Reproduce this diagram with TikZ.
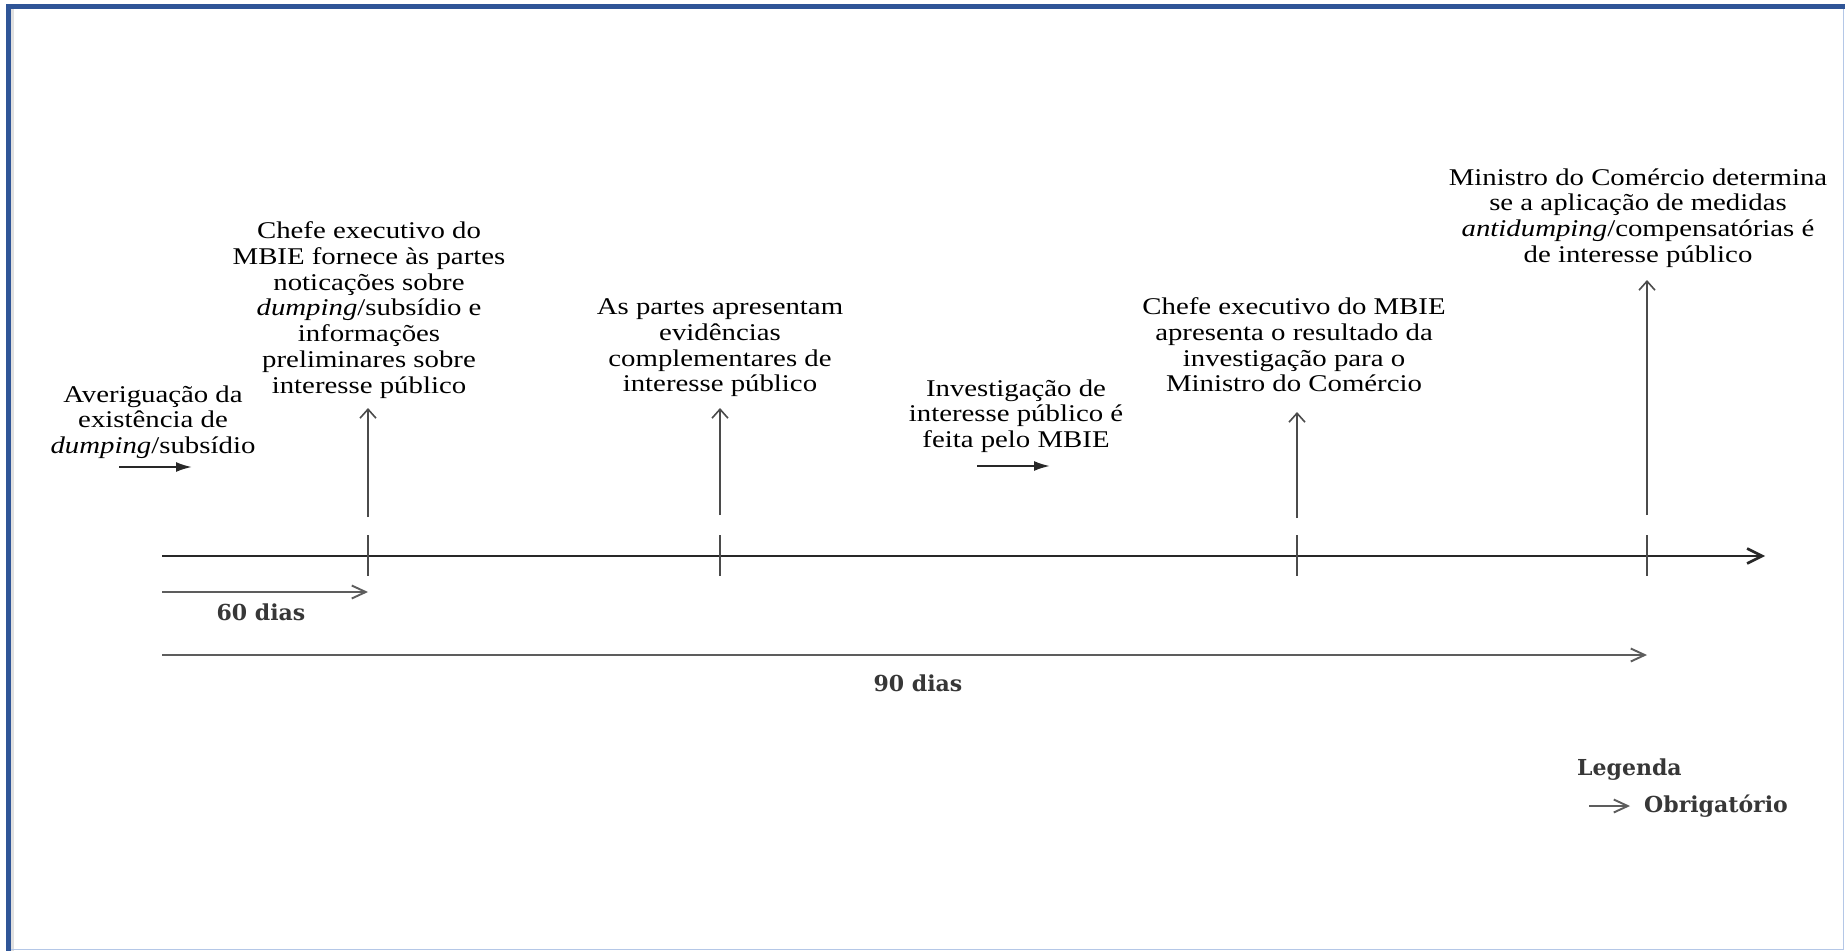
\documentclass[tikz,border=0pt]{standalone}
\usepackage{fontspec}
\setmainfont{Liberation Serif}[FakeStretch=1.2]
\newfontfamily\legfont{DejaVu Serif}
\usetikzlibrary{arrows.meta}
\definecolor{framebl}{RGB}{47,85,151}
\definecolor{framelt}{RGB}{180,199,231}
\definecolor{darkg}{RGB}{40,40,40}
\definecolor{midg}{RGB}{75,75,75}
\definecolor{leggray}{RGB}{55,55,55}
\begin{document}
\begin{tikzpicture}[x=1pt,y=-1pt,
  lbl/.style={align=center, inner sep=0pt, font=\fontsize{24}{25.7}\selectfont},
  daylbl/.style={inner sep=0pt, text=leggray, font=\legfont\bfseries\fontsize{22}{26}\selectfont},
  axisline/.style={line width=2.8pt, draw=darkg, -{Straight Barb[length=15pt,width=15pt,line width=2.6pt]}},
  tickline/.style={line width=2.2pt, draw=midg},
  uparrow/.style={line width=1.8pt, draw=midg, -{Straight Barb[length=9pt,width=16pt,line width=1.6pt]}},
  spanarrow/.style={line width=2.2pt, draw=midg!90, -{Straight Barb[length=14pt,width=13pt,line width=1.9pt]}},
  smallarrow/.style={line width=2pt, draw=darkg, -{Latex[length=16pt,width=10pt]}}
]
\useasboundingbox (0,0) rectangle (1845,951);
% frame
\fill[white] (0,0) rectangle (1845,951);
\fill[framebl] (6,4) rectangle (11,951);
\fill[framebl] (6,4) rectangle (1845,9);
\fill[black!12] (11,9) rectangle (14,951);
\draw[framelt, line width=1.5pt] (1843.5,9) -- (1843.5,949.5) -- (11,949.5);

% timeline axis
\coordinate (ax0) at (162,556);
\coordinate (ax1) at (1765,556);
\draw[axisline] (ax0) -- (ax1);

% ticks
\foreach \n/\x in {1/368,2/720,3/1297,4/1647}{
  \coordinate (tk\n a) at (\x,535);
  \coordinate (tk\n b) at (\x,576);
  \draw[tickline] (tk\n a) -- (tk\n b);
}

% event texts
\node[lbl] (t1) at (153,422) {Averiguação da\\existência de\\\textit{dumping}/subsídio};
\node[lbl] (t2) at (369,310) {Chefe executivo do\\MBIE fornece às partes\\noticações sobre\\\textit{dumping}/subsídio e\\informações\\preliminares sobre\\interesse público};
\node[lbl] (t3) at (720,348) {As partes apresentam\\evidências\\complementares de\\interesse público};
\node[lbl] (t4) at (1016,416) {Investigação de\\interesse público é\\feita pelo MBIE};
\node[lbl] (t5) at (1294,345) {Chefe executivo do MBIE\\apresenta o resultado da\\investigação para o\\Ministro do Comércio};
\node[lbl] (t6) at (1638,218) {Ministro do Comércio determina\\se a aplicação de medidas\\\textit{antidumping}/compensatórias é\\de interesse público};

% small filled arrows
\coordinate (s1a) at (119,467);
\coordinate (s1b) at (192,467);
\draw[smallarrow] (s1a) -- (s1b);
\coordinate (s2a) at (977,466);
\coordinate (s2b) at (1050,466);
\draw[smallarrow] (s2a) -- (s2b);

% vertical arrows
\coordinate (v1b) at (368,517); \coordinate (v1t) at (368,408);
\coordinate (v2b) at (720,515); \coordinate (v2t) at (720,408);
\coordinate (v3b) at (1297,518); \coordinate (v3t) at (1297,412);
\coordinate (v4b) at (1647,515); \coordinate (v4t) at (1647,280);
\draw[uparrow] (v1b) -- (v1t);
\draw[uparrow] (v2b) -- (v2t);
\draw[uparrow] (v3b) -- (v3t);
\draw[uparrow] (v4b) -- (v4t);

% span arrows
\coordinate (p60a) at (162,592);
\coordinate (p60b) at (368,592);
\draw[spanarrow] (p60a) -- (p60b);
\node[daylbl] (d60) at (261,612) {60 dias};
\coordinate (p90a) at (162,655);
\coordinate (p90b) at (1647,655);
\draw[spanarrow] (p90a) -- (p90b);
\node[daylbl] (d90) at (918,683) {90 dias};

% legend
\node[daylbl, anchor=west] (leg) at (1577,770) {Legenda};
\coordinate (la) at (1589,806);
\coordinate (lb) at (1630,806);
\draw[spanarrow] (la) -- (lb);
\node[daylbl, anchor=west] (obr) at (1644,806) {Obrigatório};
\end{tikzpicture}
\end{document}
